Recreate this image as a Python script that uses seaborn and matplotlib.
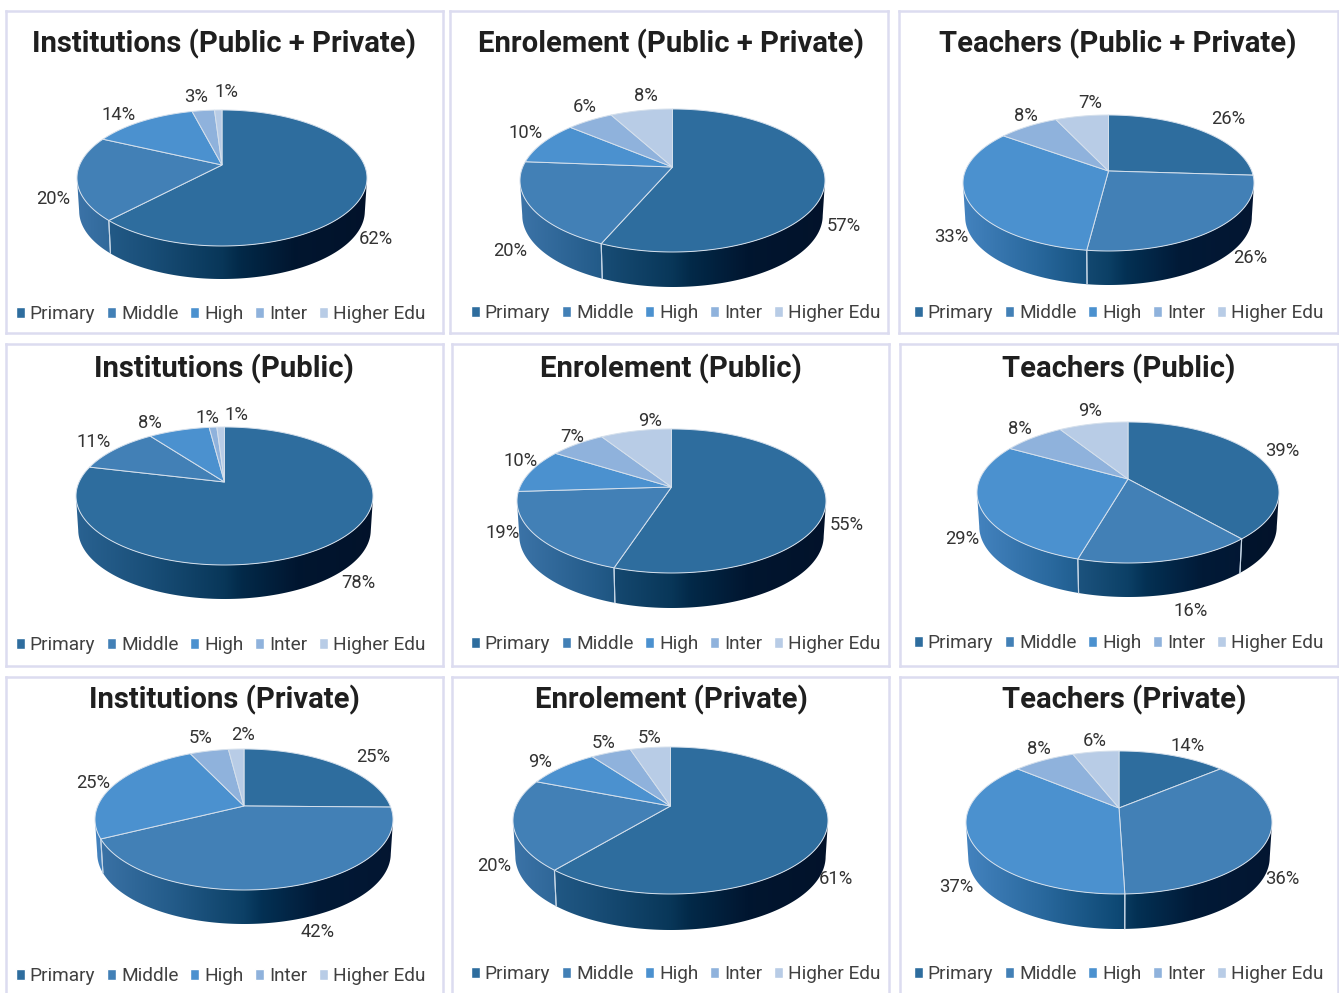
import numpy as np
import seaborn as sns
import matplotlib
matplotlib.use('Agg')
import matplotlib.pyplot as plt
from matplotlib.patches import Patch, Polygon

# values, percent per level
levels = ['Primary', 'Middle', 'High', 'Inter', 'Higher Edu']
titles = ['Institutions (Public + Private)', 'Enrolement (Public + Private)', 'Teachers (Public + Private)',
          'Institutions (Public)', 'Enrolement (Public)', 'Teachers (Public)',
          'Institutions (Private)', 'Enrolement (Private)', 'Teachers (Private)']
inst_all = [62, 20, 14, 3, 1]
enrol_all = [57, 20, 10, 6, 8]
teach_all = [26, 26, 33, 8, 7]
inst_pub = [78, 11, 8, 1, 1]
enrol_pub = [55, 19, 10, 7, 9]
teach_pub = [39, 16, 29, 8, 9]
inst_pvt = [25, 42, 25, 5, 2]
enrol_pvt = [61, 20, 9, 5, 5]
teach_pvt = [14, 36, 37, 8, 6]
all_values = [inst_all, enrol_all, teach_all, inst_pub, enrol_pub, teach_pub, inst_pvt, enrol_pvt, teach_pvt]

colors = sns.color_palette(['#2e6d9e', '#4280b6', '#4b91cf', '#8fb2dc', '#b8cce6'])

# layout in reference pixels: panel box (left, right, top, bottom)
boxes = [(6, 443, 11, 333), (450, 888, 11, 333), (899, 1338, 11, 333),
         (6, 443, 344, 666), (452, 889, 344, 666), (900, 1338, 344, 666),
         (6, 443, 677, 1003), (452, 889, 677, 1003), (900, 1338, 677, 1003)]
# pie: left, right, top, bottom of top face, apex y, bottom of the wall
pies = [(77, 367, 110, 246, 165, 279), (520, 825, 109, 252, 167, 287), (963, 1254, 115, 251, 171, 285),
        (76, 373, 427, 565, 482, 599), (517, 826, 429, 573, 487, 608), (977, 1279, 422, 563, 479, 597),
        (95, 393, 749, 890, 806, 924), (513, 828, 747, 894, 806, 930), (966, 1272, 751, 894, 808, 929)]
title_pos = [(224, 44), (671, 44), (1118, 44), (224, 369), (671, 369), (1119, 369),
             (224, 700), (671, 700), (1124, 700)]
legend_pos = [(220.5, 314), (675.5, 313), (1118.5, 313), (220.5, 645), (675.5, 644), (1118.5, 643),
              (220.5, 976), (675.5, 974), (1118.5, 974)]
label_pos = [
    [(376, 239), (53, 199), (119, 115), (196, 97), (226, 92)],
    [(844, 226), (510, 251), (526, 133), (585, 107), (646, 96)],
    [(1228, 119), (1250, 258), (951, 237), (1026, 116), (1090, 103)],
    [(358, 583), (94, 442), (150, 423), (207, 418), (236, 415)],
    [(847, 525), (503, 533), (521, 461), (572, 437), (650, 421)],
    [(1282, 451), (1191, 611), (962, 539), (1020, 429), (1090, 411)],
    [(373, 757), (318, 932), (93, 783), (201, 738), (243, 735)],
    [(836, 879), (494, 866), (540, 762), (604, 743), (650, 738)],
    [(1188, 746), (1282, 879), (956, 887), (1039, 749), (1095, 741)],
]

# how the side wall darkens from left to right, multiplies the slice colour
shade_t = [0, 0.25, 0.5, 0.56, 0.75, 1]
shade_rgb = np.array([[.90, .90, .92], [.55, .72, .76], [.18, .50, .56],
                      [.05, .38, .46], [.02, .20, .30], [.05, .17, .27]])

W, H = 1339, 993

sns.set_theme(style='white')
plt.rcParams['font.family'] = ['Roboto', 'DejaVu Sans']


def rim(theta, e):
    # perspective view of the unit circle, clockwise from the top, the centre lands at height e
    u, v = np.sin(theta), np.cos(theta)
    d = 1 + e * v
    return u * np.sqrt(1 - e ** 2) / d, (v + e) / d


def draw_pie(ax, values, pie):
    left, right, top, bottom, apex_y, wall = pie
    cx, cy = (left + right) / 2, (top + bottom) / 2
    rx, ry = (right - left) / 2, (bottom - top) / 2
    depth = wall - bottom
    e = (cy - apex_y) / ry
    taper = 0.985  # far rim of the wall is a bit narrower

    edges = np.cumsum([0] + list(values)) / sum(values) * 2 * np.pi
    for i, color in enumerate(colors):
        theta = np.linspace(edges[i], edges[i + 1], 200)
        u, v = rim(theta, e)
        x, y = cx + rx * u, cy - ry * v

        # side wall, only the part of the rim that faces us
        front = v <= 0
        if front.sum() > 1:
            x_low = cx + rx * taper * u[front]
            y_low = cy - ry * v[front] + depth
            wall_xy = np.r_[np.c_[x[front], y[front]], np.c_[x_low, y_low][::-1]]
            ramp = np.linspace(0, 1, 256)
            rgb = np.c_[[np.interp(ramp, shade_t, shade_rgb[:, k]) * color[k] for k in range(3)]].T
            img = ax.imshow(rgb[None, :, :], extent=(left, right, wall, top), aspect='auto', zorder=1,
                            interpolation='bilinear')
            clip = Polygon(wall_xy, closed=True, transform=ax.transData, fill=False, lw=0)
            ax.add_patch(clip)
            img.set_clip_path(clip)
            # light seam where the slice ends on the wall
            if v[0] <= 0 and i > 0:
                ax.plot([x[0], cx + rx * taper * u[0]], [y[0], y[0] + depth], color='#c5d5e5', lw=0.8, zorder=2)
            if v[-1] <= 0 and i < len(colors) - 1:
                ax.plot([x[-1], cx + rx * taper * u[-1]], [y[-1], y[-1] + depth], color='#c5d5e5', lw=0.8, zorder=2)

        ax.fill(np.r_[cx, x], np.r_[apex_y, y], facecolor=color, edgecolor='#d5e0ec', lw=0.7, zorder=3)


fig = plt.figure(figsize=(W / 100, H / 100), dpi=100, facecolor='white')

for n, values in enumerate(all_values):
    l, r, t, b = boxes[n]
    ax = fig.add_axes([l / W, 1 - b / H, (r - l) / W, (b - t) / H])
    draw_pie(ax, values, pies[n])
    ax.set_xlim(l, r)
    ax.set_ylim(b, t)
    ax.set_xticks([])
    ax.set_yticks([])
    for side in ax.spines.values():
        side.set_color('#dcdcf0')
        side.set_linewidth(1.8)

    ax.text(title_pos[n][0], title_pos[n][1], titles[n], ha='center', va='center', fontsize=21.1,
            fontweight='bold', color='#1f1f1f')
    for val, (px, py) in zip(values, label_pos[n]):
        ax.text(px, py, f'{val}%', ha='center', va='center', fontsize=13.2, color='#333333', zorder=5)

    handles = [Patch(facecolor=c, label=lab) for c, lab in zip(colors, levels)]
    ax.legend(handles=handles, ncol=5, loc='center', bbox_to_anchor=legend_pos[n], bbox_transform=ax.transData,
              frameon=False, fontsize=13.7, handlelength=0.48, handleheight=0.48, handletextpad=0.26,
              columnspacing=0.61, labelcolor='#404040', borderpad=0, borderaxespad=0)

fig.savefig('out.png', dpi=100)
